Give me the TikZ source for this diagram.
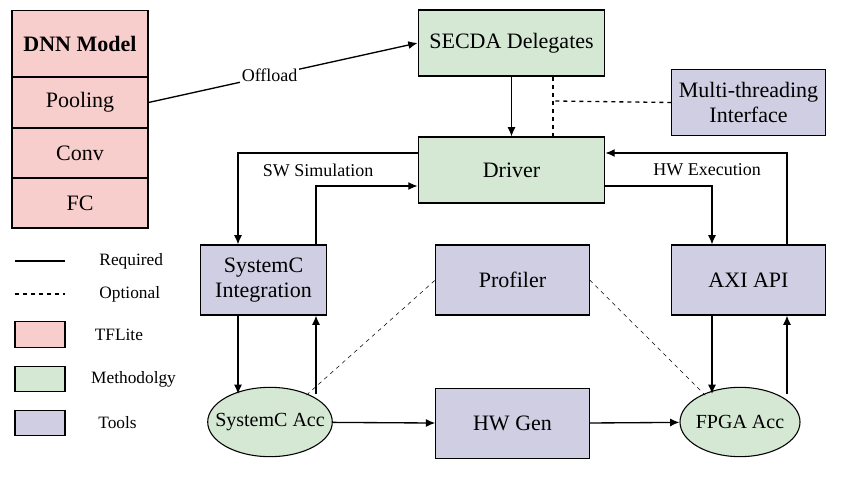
\documentclass[tikz,border=0pt]{standalone}
\usepackage{fontspec}
\setmainfont{Liberation Serif}
\usetikzlibrary{positioning,arrows.meta,shapes.geometric}
\definecolor{tfl}{HTML}{F8CECC}
\definecolor{meth}{HTML}{D5E8D4}
\definecolor{tool}{HTML}{D0CEE2}
\begin{document}
\begin{tikzpicture}[x=0.75pt,y=-0.75pt,>={Latex[length=7pt,width=6pt]},
  every node/.style={font=\fontsize{16.5}{19}\selectfont},
  blk/.style={draw,thick,rectangle,inner sep=0pt,align=center},
  tf/.style={blk,fill=tfl,minimum width=102pt,minimum height=37.5pt},
  meth/.style={blk,fill=meth,minimum width=140pt,minimum height=49.5pt},
  tool/.style={blk,fill=tool,minimum width=115pt,minimum height=52.5pt},
  acc/.style={draw,thick,ellipse,fill=meth,minimum width=90pt,minimum height=52pt,inner xsep=-8pt,inner ysep=0pt,font=\fontsize{15}{17}\selectfont},
  lab/.style={font=\fontsize{13.5}{15}\selectfont,fill=white,inner sep=1pt},
  leg/.style={font=\fontsize{13}{15}\selectfont},
  line width=1pt]
 \useasboundingbox (0,0) rectangle (841,477);
 % TFLite stack
 \node[tf,minimum height=50pt,font=\fontsize{16.5}{19}\selectfont\bfseries] (dnn) at (80,43.5) {DNN Model};
 \node[tf] (pool) at (80,102.5) {Pooling};
 \node[tf] (conv) at (80,153) {Conv};
 \node[tf] (fc) at (80,203) {FC};
 % methodology
 \node[meth] (secda) at (511.5,43) {SECDA Delegates};
 \node[meth] (drv) at (511.5,170) {Driver};
 \node[acc] (sacc) at (270,422) {SystemC Acc};
 \node[acc] (facc) at (740,422) {FPGA Acc};
 % tools
 \node[tool,minimum width=94pt] (sint) at (263.5,280) {SystemC\\Integration};
 \node[tool] (prof) at (512.5,280) {Profiler};
 \node[tool] (axi) at (748.5,280) {AXI API};
 \node[tool,minimum height=49pt] (mt) at (748.5,102.5) {Multi-threading\\Interface};
 \node[tool,minimum height=52pt] (hwg) at (512.5,423.5) {HW Gen};
 % connectors
 \draw[->] (pool.east) -- node[lab,pos=0.45] {Offload} (secda.west);
 \draw[->] (secda) -- (drv);
 \draw[dashed] (secda.south -| 553,0) -- (drv.north -| 553,0);
 \draw[dashed] (mt.west) -- (553,101);
 \draw[->] (drv.west |- 0,153) -- (238,153) -- (sint.north -| 238,0);
 \draw[->] (sint.north -| 316,0) -- (316,186) -- (drv.west |- 0,186);
 \node[lab] (sw) at (318,170) {SW Simulation};
 \draw[->] (axi.north -| 787,0) -- (787,153) -- (drv.east |- 0,153);
 \draw[->] (drv.east |- 0,186) -- (712,186) -- (axi.north -| 712,0);
 \node[lab] (hw) at (707,170) {HW Execution};
 \draw[->] (sint.south -| 238,0) -- (238,394);
 \draw[->] (316,394) -- (sint.south -| 316,0);
 \draw[->] (axi.south -| 712,0) -- (712,394);
 \draw[->] (787,394) -- (axi.south -| 787,0);
 \draw[->] (sacc) -- (hwg);
 \draw[->] (hwg) -- (facc);
 \draw[dashed,thin] (sacc.north east) ++(-8,-2) -- (prof.west);
 \draw[dashed,thin] (prof.east) -- ([shift={(8,-2)}]facc.north west);
 % legend
 \coordinate (l1) at (15,261); \coordinate (l2) at (15,294);
 \draw (l1) -- ++(50,0) node[leg,right=22pt] (lreq) {Required};
 \draw[dashed] (l2) -- ++(50,0) node[leg,right=22pt] (lopt) {Optional};
 \node[draw,thick,fill=tfl,minimum width=37.5pt,minimum height=19pt] (ltf) at (40,334.5) {};
 \node[leg,right=40pt of ltf.east,anchor=center] {TFLite};
 \node[draw,thick,fill=meth,minimum width=37.5pt,minimum height=19pt] (lme) at (40,379) {};
 \node[leg,right=51pt of lme.east,anchor=center] {Methodolgy};
 \node[draw,thick,fill=tool,minimum width=37.5pt,minimum height=19pt] (lto) at (40,423) {};
 \node[leg,right=39pt of lto.east,anchor=center] {Tools};
\end{tikzpicture}
\end{document}
